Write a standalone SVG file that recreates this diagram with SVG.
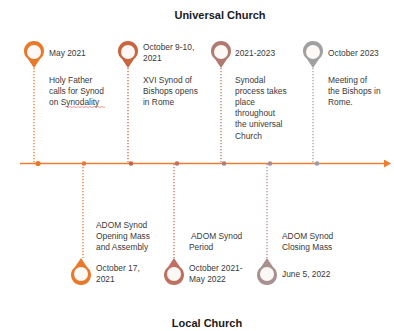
<svg xmlns="http://www.w3.org/2000/svg" width="394" height="331" viewBox="0 0 394 331">
<style>
text{font-family:"Liberation Sans",Arial,sans-serif;font-size:8.4px;fill:#3a3a3a}
.title{font-weight:bold;font-size:11px;fill:#1a1a1a}
.dl{fill:none;stroke-width:1.3;stroke-dasharray:1.3 1.7}
.hole{fill:#fcf8f6}
</style>
<defs>
<marker id="arr" markerWidth="8" markerHeight="8" refX="6" refY="4" orient="auto" markerUnits="userSpaceOnUse">
<path d="M0,0 L7,4 L0,8 Z" fill="#ED7D31"/>
</marker>
<path id="pinDown" d="M0,16 L-6,7 A10,10 0 1 1 6,7 Z"/>
<path id="pinUp" d="M0,-16 L-6,-7 A10,10 0 1 0 6,-7 Z"/>
</defs>
<rect width="394" height="331" fill="#ffffff"/>
<text class="title" x="220" y="19" text-anchor="middle">Universal Church</text>
<text class="title" x="207" y="327" text-anchor="middle">Local Church</text>

<g id="connectors">
<line x1="20" y1="163.5" x2="390" y2="163.5" stroke="#ED7D31" stroke-width="1.5" marker-end="url(#arr)"/>
<line class="dl" x1="34" y1="68" x2="34" y2="163" stroke="#E8782A"/>
<line class="dl" x1="128" y1="68" x2="128" y2="163" stroke="#C9653F"/>
<line class="dl" x1="221" y1="68" x2="221" y2="163" stroke="#B07A70"/>
<line class="dl" x1="313" y1="68" x2="313" y2="163" stroke="#A0A0A0"/>
<line class="dl" x1="83" y1="164" x2="83" y2="258" stroke="#E8782A"/>
<line class="dl" x1="174" y1="164" x2="174" y2="258" stroke="#C07060"/>
<line class="dl" x1="267" y1="164" x2="267" y2="258" stroke="#A89090"/>
<circle cx="38" cy="163.5" r="2.6" fill="#E8782A"/>
<circle cx="84" cy="163.5" r="2.3" fill="#E07A40"/>
<circle cx="131" cy="163.5" r="2.3" fill="#C9653F"/>
<circle cx="177" cy="163.5" r="2.3" fill="#C07060"/>
<circle cx="224" cy="163.5" r="2.3" fill="#A88080"/>
<circle cx="270" cy="163.5" r="2.3" fill="#A89090"/>
<circle cx="317" cy="163.5" r="2.3" fill="#9A9AA8"/>
</g>

<g id="n1">
<use href="#pinDown" x="34" y="52" fill="#E8782A"/>
<circle class="hole" cx="34" cy="52" r="7"/>
<text x="49" y="56">May 2021</text>
<text x="49" y="83">Holy Father</text>
<text x="49" y="94">calls for Synod</text>
<text x="49" y="105">on Synodality</text>
<path d="M65,107 q1,-1 2,0 t2,0 t2,0 t2,0 t2,0 t2,0 t2,0 t2,0 t2,0 t2,0 t2,0 t2,0 t2,0 t2,0 t2,0 t2,0 t2,0 t2,0 t2,0 t2,0" fill="none" stroke="#e05050" stroke-width="0.6"/>
</g>
<g id="n2">
<use href="#pinDown" x="128" y="52" fill="#C9653F"/>
<circle class="hole" cx="128" cy="52" r="7"/>
<text x="143" y="50">October 9-10,</text>
<text x="143" y="61">2021</text>
<text x="143" y="83">XVI Synod of</text>
<text x="143" y="94">Bishops opens</text>
<text x="143" y="105">in Rome</text>
</g>
<g id="n3">
<use href="#pinDown" x="221" y="52" fill="#B07A70"/>
<circle class="hole" cx="221" cy="52" r="7"/>
<text x="235" y="56">2021-2023</text>
<text x="235" y="83">Synodal</text>
<text x="235" y="94">process takes</text>
<text x="235" y="105">place</text>
<text x="235" y="116">throughout</text>
<text x="235" y="127">the universal</text>
<text x="235" y="139">Church</text>
</g>
<g id="n4">
<use href="#pinDown" x="313" y="52" fill="#A0A0A0"/>
<circle class="hole" cx="313" cy="52" r="7"/>
<text x="328" y="56">October 2023</text>
<text x="328" y="83">Meeting of</text>
<text x="328" y="94">the Bishops in</text>
<text x="328" y="105">Rome.</text>
</g>
<g id="n5">
<use href="#pinUp" x="81" y="274" fill="#E8782A"/>
<circle class="hole" cx="81" cy="274" r="7"/>
<text x="96" y="228">ADOM Synod</text>
<text x="96" y="239">Opening Mass</text>
<text x="96" y="250">and Assembly</text>
<text x="96" y="271">October 17,</text>
<text x="96" y="282">2021</text>
</g>
<g id="n6">
<use href="#pinUp" x="174" y="274" fill="#C07060"/>
<circle class="hole" cx="174" cy="274" r="7"/>
<text x="191" y="239">ADOM Synod</text>
<text x="189" y="250">Period</text>
<text x="189" y="271">October 2021-</text>
<text x="189" y="282">May 2022</text>
</g>
<g id="n7">
<use href="#pinUp" x="267" y="274" fill="#A89090"/>
<circle class="hole" cx="267" cy="274" r="7"/>
<text x="282" y="239">ADOM Synod</text>
<text x="282" y="250">Closing Mass</text>
<text x="282" y="277">June 5, 2022</text>
</g>
</svg>
